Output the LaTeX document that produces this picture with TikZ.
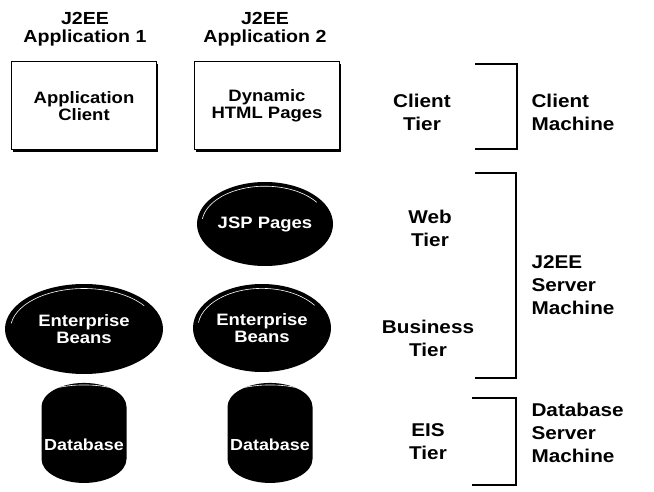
\documentclass[tikz,border=0pt]{standalone}
\usepackage{fontspec}
\setmainfont{Liberation Sans}[FakeStretch=1.12]
\usetikzlibrary{shapes.geometric,shadows,calc}
\begin{document}
\begin{tikzpicture}[x=1pt,y=1pt,
	every node/.style={align=center},
	head/.style={font=\fontsize{17.5}{18}\selectfont\bfseries},
	tier/.style={font=\fontsize{18.5}{23}\selectfont\bfseries},
	mach/.style={tier,anchor=west,align=left},
	hilite/.style={path picture={
		\draw[white,line width=.6pt]
			let \p1=(path picture bounding box.north east),
				\p2=(path picture bounding box.center),
				\n1={.93*(\x1-\x2)}, \n2={.9*(\y1-\y2)} in
			(\p2) ++(172:\n1 and \n2) arc[start angle=172,end angle=35,x radius=\n1,y radius=\n2];}},
	dbhilite/.style={path picture={
		\draw[white,line width=.6pt]
			let \p1=(path picture bounding box.north east),
				\p2=(path picture bounding box.center),
				\n1={.93*(\x1-\x2)} in
			(\x2,{\y1-13pt}) ++(175:\n1 and 11pt) arc[start angle=175,end angle=15,x radius=\n1,y radius=11pt];}},
	client/.style={draw,line width=1pt,fill=white,minimum width=145pt,minimum height=88pt,
		font=\fontsize{16.5}{17}\selectfont\bfseries,
		drop shadow={shadow xshift=1.8pt,shadow yshift=-1.8pt,opacity=1,fill=black}},
	comp/.style={ellipse,fill=black,text=white,inner sep=0pt,hilite,
		font=\fontsize{16.5}{17}\selectfont\bfseries},
	store/.style={cylinder,shape border rotate=90,aspect=.6,fill=black,text=white,inner sep=0pt,
		minimum width=85pt,minimum height=100pt,dbhilite,
		font=\fontsize{16}{16.5}\selectfont\bfseries},
	bracket/.style={line width=1.2pt}
]
\useasboundingbox (0,0) rectangle (654,-492);
\node[head] (app1) at (85,-29) {J2EE\\Application 1};
\node[head] (app2) at (265,-29) {J2EE\\Application 2};
\node[client] (appclient) at (84,-106) {Application\\Client};
\node[client] (html) at (267,-106) {Dynamic\\HTML Pages};
\node[comp,minimum width=136pt,minimum height=84pt] (jsp) at (265,-224) {JSP Pages};
\node[comp,minimum width=158pt,minimum height=90pt] (beans1) at (84,-329) {Enterprise\\Beans};
\node[comp,minimum width=138pt,minimum height=88pt] (beans2) at (262,-328) {Enterprise\\Beans};
\node[store] (db1) at (84,-445) {Database};
\node[store] (db2) at (270,-445) {Database};
\node[tier] (clienttier) at (422,-112) {Client\\Tier};
\node[tier] (webtier) at (430,-228) {Web\\Tier};
\node[tier] (bustier) at (428,-338) {Business\\Tier};
\node[tier] (eistier) at (428,-442) {EIS\\Tier};
\node[mach] (clientmach) at (528,-112) {Client\\Machine};
\node[mach] (servermach) at (528,-285) {J2EE\\Server\\Machine};
\node[mach] (dbmach) at (528,-433) {Database\\Server\\Machine};
\draw[bracket] (475,-64) -| (517,-149) -- (475,-149);
\draw[bracket] (475,-173) -| (516,-378) -- (475,-378);
\draw[bracket] (472,-398) -| (516,-485) -- (472,-485);
\end{tikzpicture}
\end{document}
